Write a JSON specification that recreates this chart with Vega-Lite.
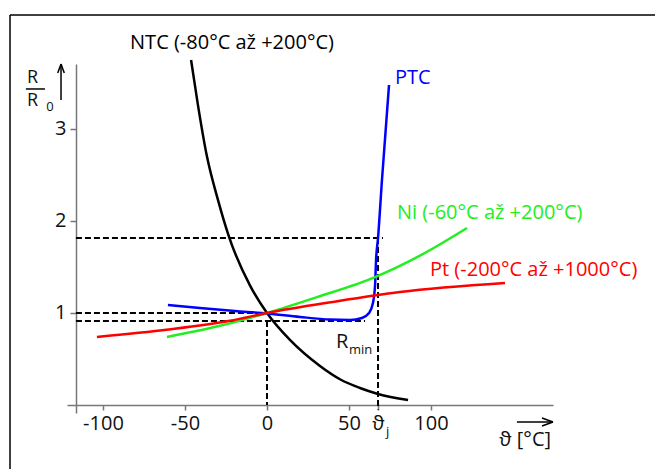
{
  "$schema": "https://vega.github.io/schema/vega-lite/v6.json",
  "width": 486,
  "height": 349,
  "autosize": {"type": "none"},
  "padding": {"left": 67, "top": 64, "right": 102, "bottom": 56},
  "background": "white",
  "config": {
    "view": {"stroke": null},
    "font": "Open Sans",
    "text": {"font": "Open Sans"}
  },
  "datasets": {
    "curves": [
      {"series": "NTC", "t": -46.3, "r": 3.75},
      {"series": "NTC", "t": -42.1, "r": 3.26},
      {"series": "NTC", "t": -36.6, "r": 2.70},
      {"series": "NTC", "t": -29.9, "r": 2.23},
      {"series": "NTC", "t": -23.2, "r": 1.83},
      {"series": "NTC", "t": -10.4, "r": 1.30},
      {"series": "NTC", "t": 0, "r": 1.0},
      {"series": "NTC", "t": 14.0, "r": 0.707},
      {"series": "NTC", "t": 32.3, "r": 0.424},
      {"series": "NTC", "t": 44.5, "r": 0.28},
      {"series": "NTC", "t": 56.7, "r": 0.185},
      {"series": "NTC", "t": 67.7, "r": 0.12},
      {"series": "NTC", "t": 86.0, "r": 0.054},
      {"series": "PTC", "t": -60.4, "r": 1.087},
      {"series": "PTC", "t": -40.9, "r": 1.054},
      {"series": "PTC", "t": -19.5, "r": 1.022},
      {"series": "PTC", "t": 0, "r": 0.995},
      {"series": "PTC", "t": 20.1, "r": 0.957},
      {"series": "PTC", "t": 38.4, "r": 0.929},
      {"series": "PTC", "t": 50.6, "r": 0.924},
      {"series": "PTC", "t": 57.9, "r": 0.946},
      {"series": "PTC", "t": 62.2, "r": 1.0},
      {"series": "PTC", "t": 64.6, "r": 1.109},
      {"series": "PTC", "t": 65.9, "r": 1.304},
      {"series": "PTC", "t": 66.5, "r": 1.576},
      {"series": "PTC", "t": 67.7, "r": 1.815},
      {"series": "PTC", "t": 70.1, "r": 2.446},
      {"series": "PTC", "t": 74.4, "r": 3.478},
      {"series": "Ni", "t": -61.0, "r": 0.739},
      {"series": "Ni", "t": -30.0, "r": 0.855},
      {"series": "Ni", "t": 0, "r": 1.0},
      {"series": "Ni", "t": 30.0, "r": 1.17},
      {"series": "Ni", "t": 65.9, "r": 1.39},
      {"series": "Ni", "t": 95.0, "r": 1.64},
      {"series": "Ni", "t": 122.0, "r": 1.924},
      {"series": "Pt", "t": -103.7, "r": 0.739},
      {"series": "Pt", "t": -60.0, "r": 0.82},
      {"series": "Pt", "t": -22.6, "r": 0.915},
      {"series": "Pt", "t": 0, "r": 1.0},
      {"series": "Pt", "t": 40.0, "r": 1.12},
      {"series": "Pt", "t": 81.1, "r": 1.228},
      {"series": "Pt", "t": 145.1, "r": 1.326}
    ],
    "dashes": [
      {"t1": -116.5, "t2": 0, "r1": 1.0, "r2": 1.0},
      {"t1": -116.5, "t2": 59.8, "r1": 0.913, "r2": 0.913},
      {"t1": -116.5, "t2": 70.7, "r1": 1.815, "r2": 1.815},
      {"t1": 0, "t2": 0, "r1": 0.913, "r2": 0},
      {"t1": 67.7, "t2": 67.7, "r1": 1.815, "r2": -0.05}
    ],
    "lines": [
      {"part": "frame", "t1": -156.7, "t2": 240, "r1": 4.239, "r2": 4.239},
      {"part": "frame", "t1": -156.7, "t2": -156.7, "r1": 4.239, "r2": -0.8},
      {"part": "arrow", "t1": -125.6, "t2": -125.6, "r1": 3.315, "r2": 3.707},
      {"part": "arrow", "t1": -127.6, "t2": -125.6, "r1": 3.609, "r2": 3.707},
      {"part": "arrow", "t1": -123.6, "t2": -125.6, "r1": 3.609, "r2": 3.707},
      {"part": "arrow", "t1": 152.4, "t2": 174.4, "r1": -0.185, "r2": -0.185},
      {"part": "arrow", "t1": 167.7, "t2": 174.4, "r1": -0.141, "r2": -0.185},
      {"part": "arrow", "t1": 167.7, "t2": 174.4, "r1": -0.229, "r2": -0.185},
      {"part": "arrow", "t1": -147.0, "t2": -135.4, "r1": 3.435, "r2": 3.435}
    ],
    "bigtext": [
      {"series": "NTC", "label": "NTC (-80°C až +200°C)", "t": -83.5, "r": 3.935},
      {"series": "PTC", "label": "PTC", "t": 78.0, "r": 3.554},
      {"series": "Ni", "label": "Ni (-60°C až +200°C)", "t": 79.3, "r": 2.087},
      {"series": "Pt", "label": "Pt (-200°C až +1000°C)", "t": 99.4, "r": 1.467},
      {"series": "text", "label": "R", "t": 42.1, "r": 0.685}
    ],
    "fraction": [
      {"label": "R", "t": -146.3, "r": 3.55},
      {"label": "R", "t": -146.3, "r": 3.30}
    ],
    "smalltext": [
      {"label": "min", "t": 50.0, "r": 0.598},
      {"label": "0", "t": -134.6, "r": 3.235},
      {"label": "j", "t": 72.6, "r": -0.293}
    ],
    "righttext": [
      {"label": "ϑ [°C]", "t": 173.2, "r": -0.38}
    ]
  },
  "layer": [
    {
      "data": {"name": "lines"},
      "mark": {"type": "rule", "color": "#000000", "strokeWidth": 1.5},
      "encoding": {
        "x": {"field": "t1", "type": "quantitative", "scale": {"domain": [-121.95, 174.39], "nice": false, "zero": false}, "axis": {"values": [-100, -50, 0, 50, 67.7, 100], "labelExpr": "datum.value > 60 && datum.value < 70 ? 'ϑ' : toString(datum.value)", "title": null, "grid": false, "offset": -8, "domainColor": "#777777", "domainWidth": 1.5, "tickColor": "#777777", "tickWidth": 1.5, "tickSize": 5, "labelFont": "Open Sans", "labelFontSize": 20, "labelColor": "#111111", "labelPadding": 3, "labelOverlap": false, "labelFlush": false}},
        "x2": {"field": "t2"},
        "y": {"field": "r1", "type": "quantitative", "scale": {"domain": [-0.08696, 3.7065], "nice": false, "zero": false}, "axis": {"values": [1, 2, 3], "labelExpr": "toString(datum.value)", "title": null, "grid": false, "offset": -9, "domainColor": "#777777", "domainWidth": 1.5, "tickColor": "#777777", "tickWidth": 1.5, "tickSize": 6, "labelFont": "Open Sans", "labelFontSize": 20, "labelColor": "#111111", "labelPadding": 4}},
        "y2": {"field": "r2"},
        "strokeWidth": {"field": "part", "type": "nominal", "scale": {"domain": ["frame", "arrow"], "range": [2.5, 1.5]}, "legend": null}
      }
    },
    {
      "data": {"name": "dashes"},
      "mark": {"type": "rule", "color": "#000000", "strokeWidth": 2, "strokeDash": [6, 3]},
      "encoding": {
        "x": {"field": "t1", "type": "quantitative"},
        "x2": {"field": "t2"},
        "y": {"field": "r1", "type": "quantitative"},
        "y2": {"field": "r2"}
      }
    },
    {
      "data": {"name": "curves"},
      "mark": {"type": "line", "strokeWidth": 2.5, "interpolate": "monotone"},
      "encoding": {
        "x": {"field": "t", "type": "quantitative"},
        "y": {"field": "r", "type": "quantitative"},
        "color": {"field": "series", "type": "nominal", "scale": {"domain": ["NTC", "PTC", "Ni", "Pt", "text"], "range": ["#000000", "#0000ff", "#22ee22", "#ff0000", "#111111"]}, "legend": null}
      }
    },
    {
      "data": {"name": "bigtext"},
      "mark": {"type": "text", "align": "left", "baseline": "middle", "fontSize": 20, "font": "Open Sans"},
      "encoding": {
        "x": {"field": "t", "type": "quantitative"},
        "y": {"field": "r", "type": "quantitative"},
        "text": {"field": "label"},
        "color": {"field": "series", "type": "nominal", "scale": {"domain": ["NTC", "PTC", "Ni", "Pt", "text"], "range": ["#000000", "#0000ff", "#22ee22", "#ff0000", "#111111"]}, "legend": null}
      }
    },
    {
      "data": {"name": "fraction"},
      "mark": {"type": "text", "align": "left", "baseline": "middle", "fontSize": 18, "font": "Open Sans", "color": "#111111"},
      "encoding": {
        "x": {"field": "t", "type": "quantitative"},
        "y": {"field": "r", "type": "quantitative"},
        "text": {"field": "label"}
      }
    },
    {
      "data": {"name": "smalltext"},
      "mark": {"type": "text", "align": "left", "baseline": "middle", "fontSize": 13, "font": "Open Sans", "color": "#111111"},
      "encoding": {
        "x": {"field": "t", "type": "quantitative"},
        "y": {"field": "r", "type": "quantitative"},
        "text": {"field": "label"}
      }
    },
    {
      "data": {"name": "righttext"},
      "mark": {"type": "text", "align": "right", "baseline": "middle", "fontSize": 20, "font": "Open Sans", "color": "#111111"},
      "encoding": {
        "x": {"field": "t", "type": "quantitative"},
        "y": {"field": "r", "type": "quantitative"},
        "text": {"field": "label"}
      }
    }
  ]
}
